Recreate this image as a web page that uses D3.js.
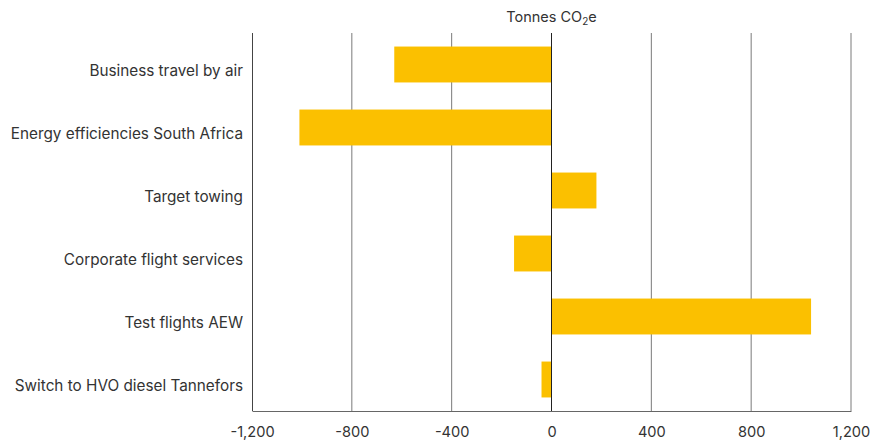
<!DOCTYPE html>
<html>
<head>
<meta charset="utf-8">
<script src="https://cdn.jsdelivr.net/npm/d3@7"></script>
<style>
    body { margin: 0; background: #fff; }
    text { font-family: Inter, "Noto Sans", sans-serif; fill: #333; }
</style>
</head>
<body>
<svg id="chart" width="886" height="444"></svg>
<script>
// data
const categories = [
    'Business travel by air',
    'Energy efficiencies South Africa',
    'Target towing',
    'Corporate flight services',
    'Test flights AEW',
    'Switch to HVO diesel Tannefors'
];
const values = [-630, -1010, 180, -150, 1040, -40];
const tickValues = [-1200, -800, -400, 0, 400, 800, 1200];

const svg = d3.select('#chart');
const margin = {top: 33, right: 35, bottom: 33, left: 252};
const width = +svg.attr('width') - margin.left - margin.right;
const height = +svg.attr('height') - margin.top - margin.bottom;

const x = d3.scaleLinear().domain([-1200, 1200]).range([0, width]);
const y = d3.scaleBand().domain(categories).range([0, height])
    .paddingInner(0.43).paddingOuter(0.215);

const g = svg.append('g').attr('transform', `translate(${margin.left},${margin.top})`);

// gridlines
g.append('g')
    .selectAll('line')
    .data(tickValues.filter(d => d !== 0 && d !== -1200))
    .enter().append('line')
    .attr('x1', d => x(d)).attr('x2', d => x(d))
    .attr('y1', 0).attr('y2', height)
    .attr('stroke', '#7a7a7a').attr('stroke-width', 1);

// bars
g.append('g')
    .selectAll('rect')
    .data(values)
    .enter().append('rect')
    .attr('x', d => x(Math.min(0, d)))
    .attr('width', d => Math.abs(x(d) - x(0)))
    .attr('y', (d, i) => y(categories[i]))
    .attr('height', y.bandwidth())
    .attr('fill', '#fbc000');

// zero line
g.append('line')
    .attr('x1', x(0)).attr('x2', x(0))
    .attr('y1', 0).attr('y2', height)
    .attr('stroke', '#222').attr('stroke-width', 1);

// left axis line
g.append('line')
    .attr('x1', 0.5).attr('x2', 0.5)
    .attr('y1', 0).attr('y2', height)
    .attr('stroke', '#444').attr('stroke-width', 1);

// bottom axis
const xAxis = d3.axisBottom(x)
    .tickValues(tickValues)
    .tickSize(0)
    .tickPadding(16)
    .tickFormat(d => d3.format(',')(d).replace('\u2212', '-'));

const xg = g.append('g').attr('transform', `translate(0,${height})`).call(xAxis);
xg.select('.domain').attr('stroke', '#666');
xg.selectAll('text').style('font-size', '14.6px').attr('fill', '#333');

// category labels, sitting a little below the bar centre like the original
const yAxis = d3.axisLeft(y).tickSize(0).tickPadding(9);
const yg = g.append('g').call(yAxis);
yg.select('.domain').remove();
yg.selectAll('text').style('font-size', '15.3px').attr('fill', '#333').attr('dy', '0.75em');

// title
const title = svg.append('text')
    .attr('x', margin.left + x(0))
    .attr('y', 22)
    .attr('text-anchor', 'middle')
    .style('font-size', '14.5px')
    .attr('fill', '#444');
title.append('tspan').text('Tonnes CO');
title.append('tspan').text('2').style('font-size', '10px').attr('dy', 3);
title.append('tspan').text('e').attr('dy', -3);
</script>
</body>
</html>
